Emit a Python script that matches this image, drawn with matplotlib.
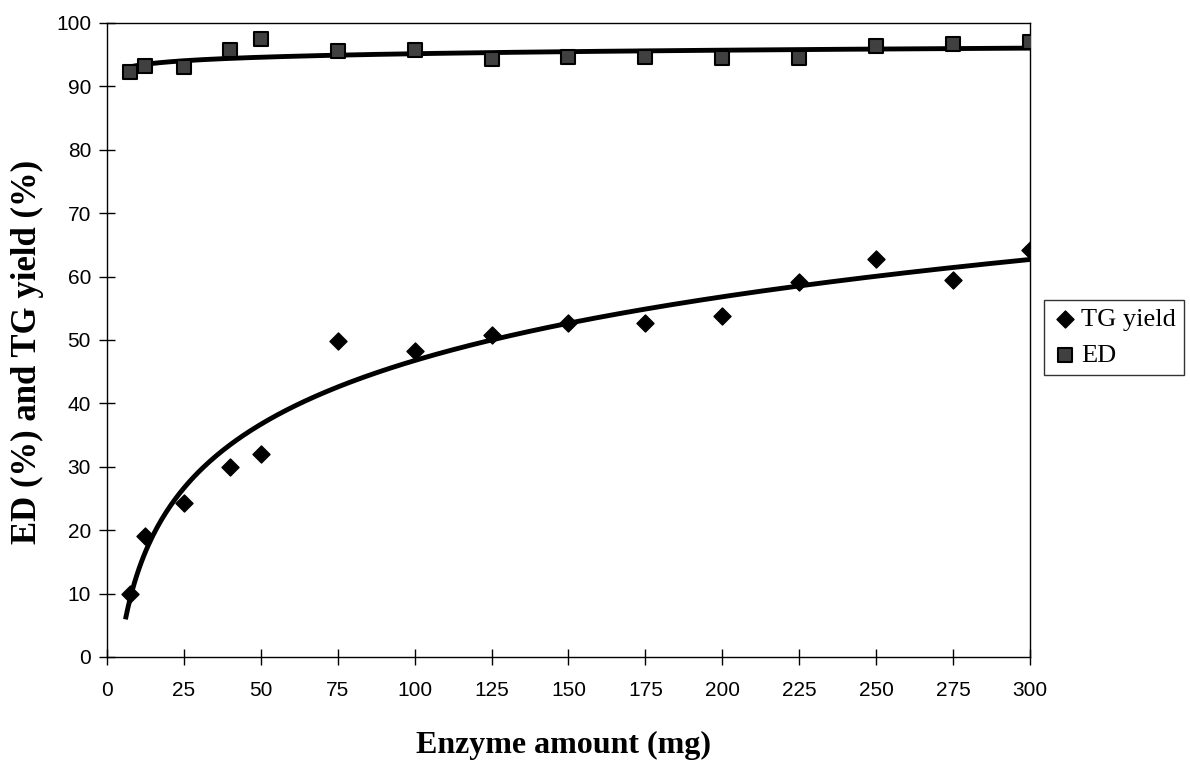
import matplotlib
matplotlib.use('Agg')
import matplotlib.pyplot as plt
import numpy as np

# enzyme amount (mg)
enzyme = np.array([7.5, 12.5, 25, 40, 50, 75, 100, 125, 150, 175, 200, 225, 250, 275, 300])
tg_yield = np.array([10, 19, 24.3, 30, 32, 49.8, 48.2, 50.8, 52.6, 52.6, 53.8, 59.2, 62.8, 59.5, 64.2])
ed = np.array([92.2, 93.2, 93.0, 95.7, 97.5, 95.5, 95.8, 94.3, 94.6, 94.6, 94.4, 94.4, 96.4, 96.7, 97.0])

xticks = list(range(0, 301, 25))
yticks = list(range(0, 101, 10))

# log trend lines like excel
a_tg, b_tg = np.polyfit(np.log(enzyme), tg_yield, 1)
a_ed, b_ed = np.polyfit(np.log(enzyme), ed, 1)
xs_tg = np.linspace(6, 300, 400)
xs_ed = np.linspace(7.5, 300, 400)

fig = plt.figure(figsize=(11.9, 7.63), dpi=100)
ax = fig.add_axes([0.0899, 0.139, 0.7756, 0.831])

ax.plot(xs_tg, a_tg * np.log(xs_tg) + b_tg, color='black', lw=3.5, solid_capstyle='butt')
ax.plot(xs_ed, a_ed * np.log(xs_ed) + b_ed, color='black', lw=3.5, solid_capstyle='butt')
ax.scatter(enzyme, tg_yield, marker='D', s=75, color='black', zorder=3, label='TG yield')
ax.scatter(enzyme, ed, marker='s', s=110, facecolor='#404040', edgecolor='black', lw=1.5, zorder=3, label='ED')

ax.set_xlim(0, 300)
ax.set_ylim(0, 100)
ax.set_xticks(xticks)
ax.set_yticks(yticks)
for s in ax.spines.values():
    s.set_linewidth(1.0)
ax.tick_params(direction='inout', length=11, width=1, labelsize=15)
for lab in ax.get_xticklabels() + ax.get_yticklabels():
    lab.set_family('Liberation Sans')
ax.tick_params(axis='x', pad=12)
ax.tick_params(axis='y', pad=6)

# axis titles placed by hand in figure coords
fig.text(563 / 1190, 1 - 745 / 763, 'Enzyme amount (mg)', family='Liberation Serif', fontweight='bold',
         fontsize=23, ha='center', va='center')
fig.text(27 / 1190, 1 - 352 / 763, 'ED (%) and TG yield (%)', family='Liberation Serif', fontweight='bold',
         fontsize=25, ha='center', va='center', rotation=90)

leg = ax.legend(loc='upper left', bbox_to_anchor=(1044 / 1190, 1 - 300 / 763), bbox_transform=fig.transFigure,
                frameon=True, fancybox=False, borderaxespad=0,
                edgecolor='black', prop={'family': 'Liberation Serif', 'size': 19},
                handletextpad=0.1, borderpad=0.3, handlelength=1.0, labelspacing=0.45)
leg.get_frame().set_linewidth(1.0)

fig.savefig('out.png', dpi=100)
